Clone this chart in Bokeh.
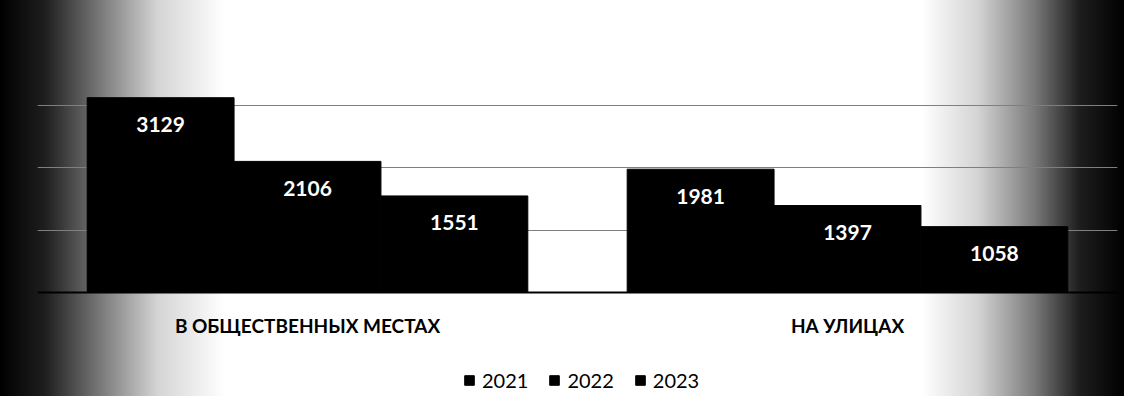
from bokeh.plotting import figure
from bokeh.models import ColumnDataSource, LabelSet, Legend, LegendItem, Range1d, FactorRange, Span
from bokeh.core.properties import value
from bokeh.transform import dodge
from bokeh.embed import file_html
from bokeh.resources import INLINE

categories = ["В ОБЩЕСТВЕННЫХ МЕСТАХ", "НА УЛИЦАХ"]
years = ["2021", "2022", "2023"]
values_2021 = [3129, 1981]
values_2022 = [2106, 1397]
values_2023 = [1551, 1058]

src = ColumnDataSource(dict(cat=categories, base=[0, 0],
                            y2021=values_2021, y2022=values_2022, y2023=values_2023,
                            t2021=[str(v) for v in values_2021],
                            t2022=[str(v) for v in values_2022],
                            t2023=[str(v) for v in values_2023]))

FONT = "Lato"
# frame spans from the top margin to the bottom of the figure; the value axis
# keeps 249 px per 4000 units, the space under zero holds the labels and legend
p = figure(width=1124, height=396, output_backend="svg", toolbar_location=None,
           x_range=FactorRange(*categories, range_padding=0), y_range=Range1d(-1671, 4000),
           min_border_left=37, min_border_right=7, min_border_top=43, min_border_bottom=0)

bw = 0.272
offsets = [-bw, 0.0, bw]
series = [("y2021", "t2021"), ("y2022", "t2022"), ("y2023", "t2023")]
items = []
for (col, tcol), off, yr in zip(series, offsets, years):
    r = p.vbar(x=dodge("cat", off, range=p.x_range), top=col, bottom=0, width=bw, source=src,
               fill_color="#000000", line_color="#000000")
    items.append(LegendItem(label=yr, renderers=[r]))
    lbl = LabelSet(x=dodge("cat", off, range=p.x_range), y=col, text=tcol, source=src,
                   text_align="center", text_baseline="middle", y_offset=-27,
                   text_color="white", text_font=value(FONT), text_font_style="bold",
                   text_font_size="21px")
    p.add_layout(lbl)

# baseline
p.add_layout(Span(location=0, dimension="width", line_color="#000000", line_width=2))

# category labels
cat_labels = LabelSet(x="cat", y="base", text="cat", source=src, text_align="center",
                      text_baseline="middle", y_offset=-33, text_color="#000000",
                      text_font=value(FONT), text_font_style="bold", text_font_size="19px")
p.add_layout(cat_labels)

legend = Legend(items=items, orientation="horizontal", location=(426, 4),
                label_text_font=FONT, label_text_font_size="20px", label_text_color="#000000",
                glyph_width=12, glyph_height=12, spacing=20, label_standoff=7,
                border_line_color=None, background_fill_alpha=0, margin=0, padding=0)
p.add_layout(legend)

p.xaxis.visible = False
p.yaxis.visible = False
p.xgrid.grid_line_color = None
p.ygrid.grid_line_color = "#7f7f7f"
p.ygrid.ticker = [1000, 2000, 3000, 4000]
p.outline_line_color = None

p.background_fill_alpha = 0
p.border_fill_alpha = 0
p.styles = {"background": "linear-gradient(to right, #000000 0%, #1e1e1e 4%, #7a7a7a 9%, #d4d4d4 14%, #ffffff 20%, #ffffff 82%, #d4d4d4 87%, #7a7a7a 92%, #1e1e1e 96%, #000000 100%)"}

open("out.html", "w").write(file_html(p, INLINE))
